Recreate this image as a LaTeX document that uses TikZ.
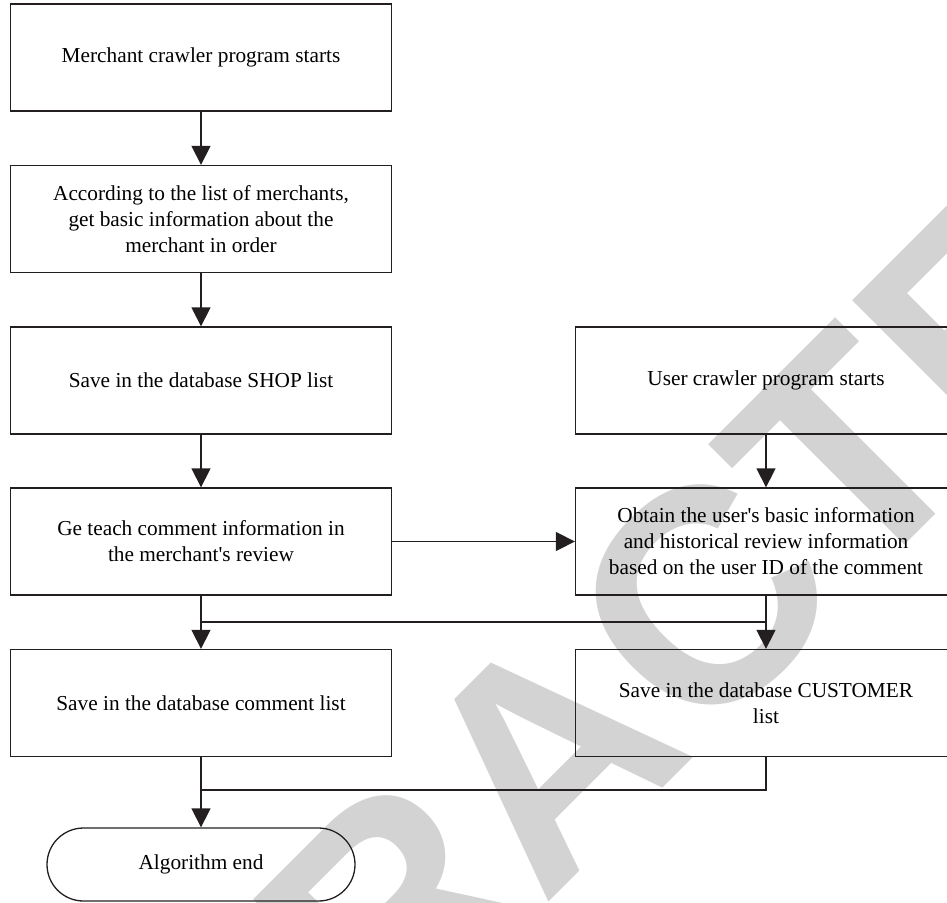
\documentclass[tikz,border=0pt]{standalone}
\usepackage{fontspec}
\setmainfont{Liberation Serif}
\newfontfamily\stampfont{Liberation Sans}
\usetikzlibrary{arrows.meta,shapes.misc}

\definecolor{ink}{RGB}{35,31,32}
\definecolor{stampgray}{RGB}{211,211,211}

\begin{document}
\begin{tikzpicture}[x=1pt,y=-1pt,
  textfont/.style={font=\fontsize{21.3}{26}\selectfont},
  stepbox/.style={draw=ink, line width=1.3pt, minimum width=381pt,
    minimum height=107pt, inner sep=0pt, align=center, textfont},
  endbox/.style={draw=ink, line width=1.3pt, rounded rectangle,
    minimum width=308pt, minimum height=73pt, inner sep=0pt, textfont},
  link/.style={draw=ink, line width=1.3pt},
  flow/.style={link, -{Triangle[length=19pt,width=19pt]}}]

\useasboundingbox (0,0) rectangle (947,902);
\clip (0,0) rectangle (947,902);

% background stamp
\node[rotate=45, text=stampgray, inner sep=0pt,
      font=\stampfont\bfseries\fontsize{305}{305}\selectfont]
  (stamp) at (547,755) {RETRACTED};

% left column
\node[stepbox] (b1) at (201,57.5) {Merchant crawler program starts};
\node[stepbox] (b2) at (201,219) {According to the list of merchants,\\get basic information about the\\merchant in order};
\node[stepbox] (b3) at (201,380.5) {Save in the database SHOP list};
\node[stepbox] (b4) at (201,541.5) {Ge teach comment information in\\the merchant\textquotesingle s review};
\node[stepbox] (b5) at (201,703) {Save in the database comment list};
\node[endbox]  (e)  at (201,864.5) {Algorithm end};

% right column
\node[stepbox] (u1) at (766,380.5) {User crawler program starts};
\node[stepbox] (u2) at (766,541.5) {Obtain the user\textquotesingle s basic information\\and historical review information\\based on the user ID of the comment};
\node[stepbox] (u3) at (766,703) {Save in the database CUSTOMER\\list};

% junction points
\coordinate (j1)  at (201,622);
\coordinate (j1r) at (766,622);
\coordinate (j2)  at (201,790);
\coordinate (j2r) at (766,790);

% connectors
\draw[flow] (b1) -- (b2);
\draw[flow] (b2) -- (b3);
\draw[flow] (b3) -- (b4);
\draw[flow] (u1) -- (u2);
\draw[flow] (b4) -- (u2);

\draw[link] (b4.south) -- (j1) -- (j1r);
\draw[link] (u2.south) -- (j1r);
\draw[flow] (j1) -- (b5.north);
\draw[flow] (j1r) -- (u3.north);

\draw[link] (b5.south) -- (j2);
\draw[link] (u3.south) -- (j2r) -- (j2);
\draw[flow] (j2) -- (e.north);
\end{tikzpicture}
\end{document}
